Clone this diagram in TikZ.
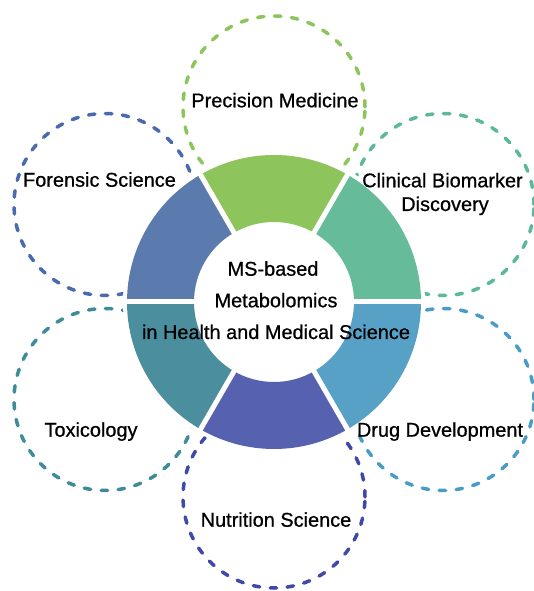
\documentclass[tikz,border=0pt]{standalone}
\usepackage{fontspec}
\setmainfont{Liberation Sans}
\newfontfamily\lblfont[FakeBold=0.7]{Liberation Sans}
\definecolor{sgreen}{HTML}{8DC55C}
\definecolor{steal}{HTML}{66BC9A}
\definecolor{sblue}{HTML}{57A0C6}
\definecolor{sindigo}{HTML}{5661AF}
\definecolor{spetrol}{HTML}{4B8F9E}
\definecolor{ssteel}{HTML}{5B7BAF}
\definecolor{dgreen}{HTML}{8CC65A}
\definecolor{dteal}{HTML}{5BB89A}
\definecolor{dblue}{HTML}{4A9CC8}
\definecolor{dindigo}{HTML}{4048A8}
\definecolor{dpetrol}{HTML}{3E8B9A}
\definecolor{dsteel}{HTML}{4A6AB0}
\begin{document}
\begin{tikzpicture}[x=1bp,y=1bp,
  dcirc/.style={circle, minimum size=182bp, inner sep=0pt, line width=3.5bp, dash pattern=on 6.5bp off 10.5bp, line cap=round},
  lbl/.style={anchor=base, inner sep=0pt, font=\lblfont\fontsize{20}{22}\selectfont, text=black},
  gap/.style={white, line width=5bp}]
\useasboundingbox (0,0) rectangle (534,591);
\fill[white] (0,0) rectangle (534,591);
\coordinate (C) at (274,289);
% dashed circles
\node[dcirc, draw=dgreen]  (cprec) at (274,484) {};
\node[dcirc, draw=dteal]   (cclin) at (443,386.5) {};
\node[dcirc, draw=dblue]   (cdrug) at (443,191.5) {};
\node[dcirc, draw=dindigo] (cnutr) at (274,94) {};
\node[dcirc, draw=dpetrol] (ctox)  at (105,191.5) {};
\node[dcirc, draw=dsteel]  (cfore) at (105,386.5) {};
% cover circles inside ring
\fill[white] (C) circle (151);
% ring segments
\begin{scope}[shift={(C)}]
\fill[sgreen]  (60:147) arc[start angle=60, end angle=120, radius=147] -- (120:80) arc[start angle=120, end angle=60, radius=80] -- cycle;
\fill[steal]   (0:147) arc[start angle=0, end angle=60, radius=147] -- (60:80) arc[start angle=60, end angle=0, radius=80] -- cycle;
\fill[sblue]   (-60:147) arc[start angle=-60, end angle=0, radius=147] -- (0:80) arc[start angle=0, end angle=-60, radius=80] -- cycle;
\fill[sindigo] (-120:147) arc[start angle=-120, end angle=-60, radius=147] -- (-60:80) arc[start angle=-60, end angle=-120, radius=80] -- cycle;
\fill[spetrol] (180:147) arc[start angle=180, end angle=240, radius=147] -- (240:80) arc[start angle=240, end angle=180, radius=80] -- cycle;
\fill[ssteel]  (120:147) arc[start angle=120, end angle=180, radius=147] -- (180:80) arc[start angle=180, end angle=120, radius=80] -- cycle;
\foreach \a in {0,60,...,300} \draw[gap] (0,0) -- (\a:150);
\end{scope}
% labels
\node[lbl] (prec) at (275,483.7) {Precision Medicine};
\node[lbl] (fore) at (99.5,404.3) {Forensic Science};
\node[lbl] (clin1) at (442.5,403.7) {Clinical Biomarker};
\node[lbl] (clin2) at (445,380) {Discovery};
\node[lbl] (tox) at (91,154.3) {Toxicology};
\node[lbl] (drug) at (440,154.3) {Drug Development};
\node[lbl] (nutr) at (276,64.3) {Nutrition Science};
\node[lbl] (mid1) at (273,315.3) {MS-based};
\node[lbl] (mid2) at (276,283.7) {Metabolomics};
\node[lbl] (mid3) at (276,252) {in Health and Medical Science};
\end{tikzpicture}
\end{document}
